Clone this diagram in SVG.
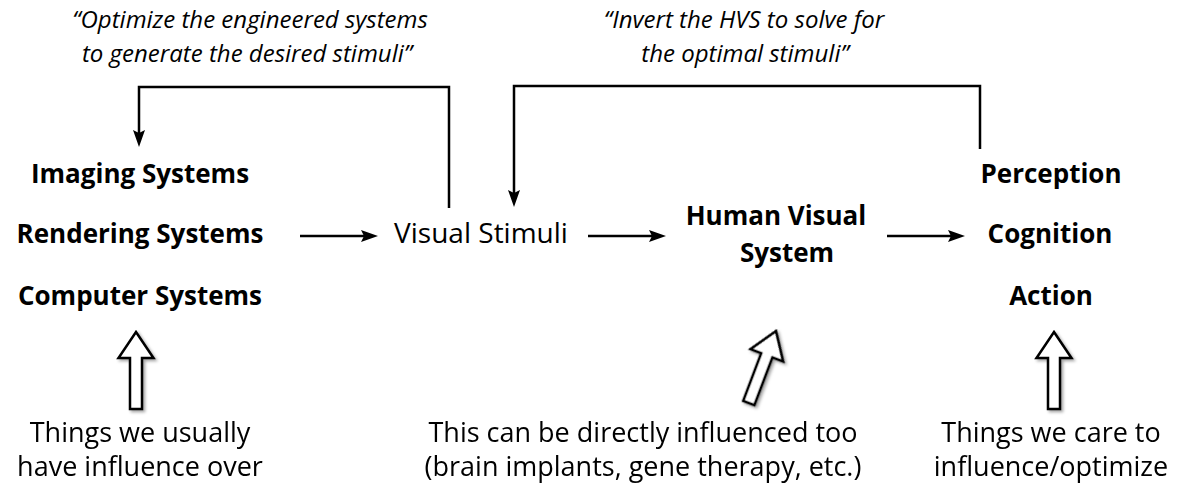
<svg xmlns="http://www.w3.org/2000/svg" width="1190" height="493" viewBox="0 0 1190 493">
<style>
text{font-family:"Open Sans",Lato,"Liberation Sans",sans-serif;fill:#000;text-anchor:middle}
.q{font-style:italic;font-size:24px}
.b{font-weight:bold;font-size:26px}
.r{font-size:27px}
.vs{font-size:28px}
.c{fill:none;stroke:#000;stroke-width:2.5}
.ha{fill:#fff;stroke:#000;stroke-width:2.5;stroke-linejoin:miter}
</style>
<defs>
<marker id="ah" markerUnits="userSpaceOnUse" markerWidth="18" markerHeight="14" viewBox="0 0 18 14" refX="5" refY="7" orient="auto">
<path d="M0,1 L17,7 L0,13 L3,7 Z" fill="#000"/>
</marker>
<filter id="sh" x="-50%" y="-50%" width="200%" height="200%">
<feDropShadow dx="2" dy="2" stdDeviation="1.5" flood-color="#000" flood-opacity="0.35"/>
</filter>
<path id="bigup" d="M0,0 L17.5,26 L6,26 L6,77 L-6,77 L-6,26 L-17.5,26 Z"/>
</defs>

<g id="quote-left">
<text class="q" x="250" y="28">“Optimize the engineered systems</text>
<text class="q" x="247" y="62">to generate the desired stimuli”</text>
</g>
<g id="quote-right">
<text class="q" x="744" y="28">“Invert the HVS to solve for</text>
<text class="q" x="745" y="62">the optimal stimuli”</text>
</g>

<g id="node-systems">
<text class="b" x="140" y="183">Imaging Systems</text>
<text class="b" x="140" y="243">Rendering Systems</text>
<text class="b" x="140" y="305">Computer Systems</text>
</g>
<g id="node-stimuli">
<text class="vs" x="481" y="243">Visual Stimuli</text>
</g>
<g id="node-hvs">
<text class="b" x="776" y="225">Human Visual</text>
<text class="b" x="787" y="262">System</text>
</g>
<g id="node-outcomes">
<text class="b" x="1051" y="183">Perception</text>
<text class="b" x="1050" y="243">Cognition</text>
<text class="b" x="1051" y="305">Action</text>
</g>

<g id="connectors">
<path class="c" d="M449,208 V87 H139 V135" marker-end="url(#ah)"/>
<path class="c" d="M980,149 V86 H514 V195" marker-end="url(#ah)"/>
<path class="c" d="M300,236 H366" marker-end="url(#ah)"/>
<path class="c" d="M588,236 H654" marker-end="url(#ah)"/>
<path class="c" d="M887,236 H953" marker-end="url(#ah)"/>
</g>

<g id="influence-arrows" filter="url(#sh)">
<use href="#bigup" class="ha" transform="translate(136,332)"/>
<use href="#bigup" class="ha" transform="translate(776,331) rotate(20.7)"/>
<use href="#bigup" class="ha" transform="translate(1054,332)"/>
</g>

<g id="note-left">
<text class="r" x="140" y="442">Things we usually</text>
<text class="r" x="140" y="476">have influence over</text>
</g>
<g id="note-middle">
<text class="r" x="643" y="442">This can be directly influenced too</text>
<text class="r" x="643" y="476">(brain implants, gene therapy, etc.)</text>
</g>
<g id="note-right">
<text class="r" x="1051" y="442">Things we care to</text>
<text class="r" x="1051" y="476">influence/optimize</text>
</g>
</svg>
